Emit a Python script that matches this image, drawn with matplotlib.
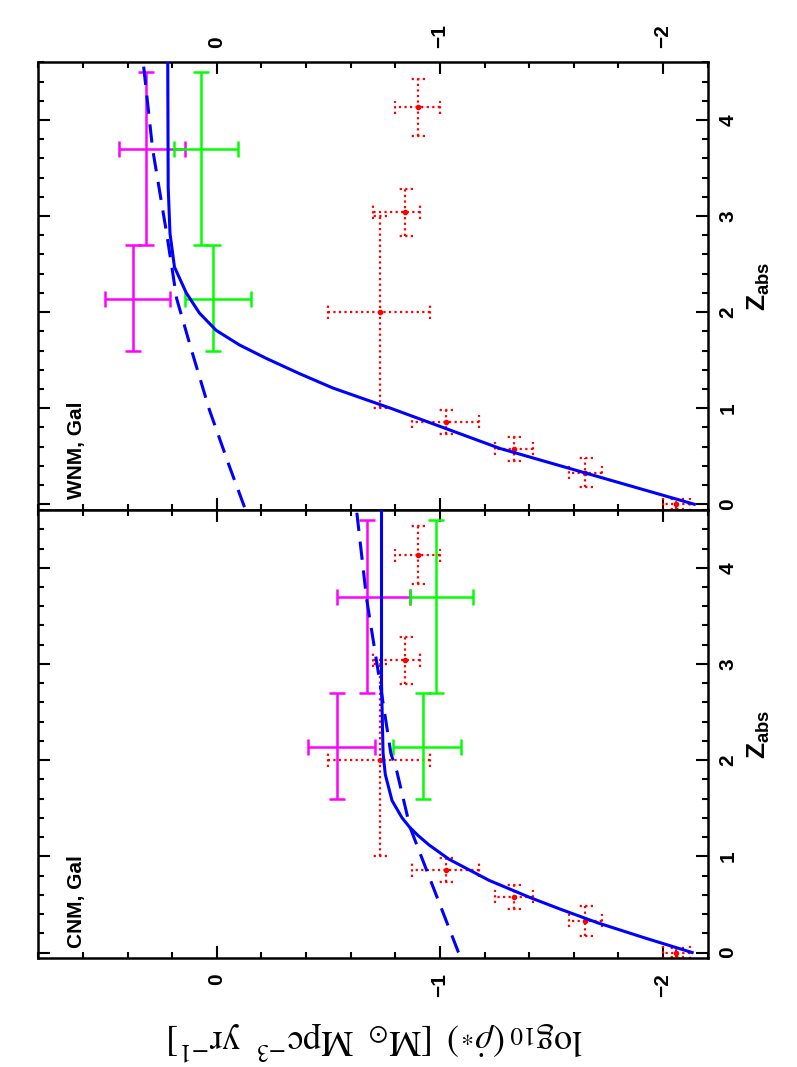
import numpy as np
import matplotlib.pyplot as plt
from matplotlib.ticker import FixedLocator, MultipleLocator


OUT_PATH = "out.png"

# galaxy SFR compilation, identical in both panels (z, log10 rho_dot)
GAL_Z = [0.0, 0.33, 0.58, 0.86, 2.0, 3.04, 4.13]
GAL_Z_ERR = [0.05, 0.155, 0.125, 0.125, 1.0, 0.245, 0.30]
GAL_SFR = [-2.06, -1.652, -1.33, -1.026, -0.73, -0.845, -0.90]
GAL_SFR_LO = [0.06, 0.075, 0.085, 0.15, 0.226, 0.065, 0.10]
GAL_SFR_HI = [0.06, 0.075, 0.085, 0.15, 0.232, 0.145, 0.10]

# DLA redshift bins
BIN_Z = [2.14, 3.70]
BIN_Z_LO = [0.54, 1.0]
BIN_Z_HI = [0.56, 0.8]

# CNM panel
CNM_MAG = [-0.539, -0.671]
CNM_MAG_LO = [0.169, 0.193]
CNM_MAG_HI = [0.129, 0.132]
CNM_GRN = [-0.923, -0.982]
CNM_GRN_LO = [0.172, 0.166]
CNM_GRN_HI = [0.133, 0.118]
CNM_SOLID_Z = [0.0, 0.15, 0.31, 0.45, 0.57, 0.75, 0.97, 1.12, 1.22, 1.30, 1.40, 1.58, 1.85,
               2.07, 2.8, 4.6]
CNM_SOLID = [-2.13, -1.92, -1.705, -1.54, -1.405, -1.22, -1.04, -0.95, -0.90, -0.865, -0.83,
             -0.785, -0.755, -0.745, -0.738, -0.738]
CNM_DASH_Z = [0.0, 0.76, 1.30, 1.88, 2.07, 2.82, 3.68, 4.6]
CNM_DASH = [-1.083, -0.956, -0.866, -0.807, -0.78, -0.73, -0.671, -0.626]

# WNM panel
WNM_MAG = [0.377, 0.317]
WNM_MAG_LO = [0.167, 0.175]
WNM_MAG_HI = [0.123, 0.123]
WNM_GRN = [0.015, 0.073]
WNM_GRN_LO = [0.169, 0.167]
WNM_GRN_HI = [0.127, 0.12]
WNM_SOLID_Z = [0.0, 0.29, 0.58, 0.99, 1.21, 1.36, 1.52, 1.66, 1.81, 1.99, 2.20, 2.47, 2.82,
               3.3, 4.6]
WNM_SOLID = [-2.14, -1.705, -1.27, -0.79, -0.52, -0.37, -0.22, -0.10, 0.003, 0.078,
             0.137, 0.19, 0.21, 0.218, 0.22]
WNM_DASH_Z = [-0.03, 0.39, 0.98, 1.6, 2.14, 2.82, 3.7, 4.6]
WNM_DASH = [-0.124, -0.057, 0.033, 0.113, 0.18, 0.225, 0.288, 0.33]

RED = "#ff0000"
MAGENTA = "#ff00ff"
GREEN = "#00ff00"
BLUE = "#0000ff"
DOTS = (0, (1, 1.5))


def draw_panel(ax, mag, mag_lo, mag_hi, grn, grn_lo, grn_hi, sz, sv, dz, dv, name):
    # galaxy points: dotted bars and dotted caps
    eb = ax.errorbar(GAL_SFR, GAL_Z, xerr=[GAL_SFR_LO, GAL_SFR_HI], yerr=GAL_Z_ERR,
                     fmt="o", ms=3, color=RED, ecolor=RED, elinewidth=1.6, capsize=0, zorder=2)
    for lc in eb[2]:
        lc.set_linestyle(DOTS)
    v = np.array(GAL_SFR)
    z = np.array(GAL_Z)
    ze = np.array(GAL_Z_ERR)
    cap_z, cap_v = 0.07, 0.032
    ends = np.concatenate([v - np.array(GAL_SFR_LO), v + np.array(GAL_SFR_HI)])
    zz = np.concatenate([z, z])
    ax.vlines(ends, zz - cap_z, zz + cap_z, colors=RED, linestyles=DOTS, lw=1.6, zorder=2)
    zends = np.concatenate([z - ze, z + ze])
    vv = np.concatenate([v, v])
    ax.hlines(zends, vv - cap_v, vv + cap_v, colors=RED, linestyles=DOTS, lw=1.6, zorder=2)

    ax.errorbar(mag, BIN_Z, xerr=[mag_lo, mag_hi], yerr=[BIN_Z_LO, BIN_Z_HI], fmt="none",
                ecolor=MAGENTA, elinewidth=1.8, capsize=6, capthick=1.8, zorder=3)
    ax.errorbar(grn, BIN_Z, xerr=[grn_lo, grn_hi], yerr=[BIN_Z_LO, BIN_Z_HI], fmt="none",
                ecolor=GREEN, elinewidth=1.8, capsize=6, capthick=1.8, zorder=3)

    ax.plot(sv, sz, color=BLUE, lw=2.2, zorder=4)
    ax.plot(dv, dz, color=BLUE, lw=2.2, dashes=(6, 3.5), zorder=4)

    ax.set_xlim(0.8, -2.2)
    ax.set_ylim(-0.06, 4.6)
    ax.xaxis.set_major_locator(FixedLocator([0, -1, -2]))
    ax.xaxis.set_minor_locator(MultipleLocator(0.2))
    ax.yaxis.set_major_locator(MultipleLocator(1))
    ax.yaxis.set_minor_locator(MultipleLocator(0.2))
    ax.tick_params(which="both", direction="in", top=True, bottom=True, left=True, right=True,
                   width=1.5, labelsize=15)
    ax.tick_params(which="major", length=8.6)
    ax.tick_params(which="minor", length=4.5)
    ax.tick_params(axis="x", labelrotation=90)
    ax.tick_params(axis="y", labelleft=False, labelright=True, labelrotation=90, pad=7.5)
    for sp in ax.spines.values():
        sp.set_linewidth(1.8)
    for t in ax.yaxis.get_major_ticks():
        t.label2.set_verticalalignment("center")
        t.label2.set_fontweight("bold")
    for t in ax.xaxis.get_major_ticks():
        t.label1.set_fontweight("bold")
        t.label2.set_fontweight("bold")

    ax.text(0.043, 0.024, name, transform=ax.transAxes, rotation=90, ha="left", va="bottom",
            fontsize=15, fontweight="bold")
    ax.text(1.056, 0.5, r"$\mathrm{Z}_{\mathrm{abs}}$", transform=ax.transAxes, rotation=90,
            ha="left", va="center", fontsize=19)


def main():
    plt.rcParams["font.family"] = ["Liberation Sans", "DejaVu Sans"]
    plt.rcParams["mathtext.fontset"] = "custom"
    plt.rcParams["mathtext.rm"] = "Liberation Sans:bold"
    plt.rcParams["mathtext.bf"] = "Liberation Sans:bold"

    fig = plt.figure(figsize=(7.97, 10.67), dpi=100)
    ax_w = fig.add_axes([0.0481, 0.5220, 0.8399, 0.4196])
    ax_c = fig.add_axes([0.0481, 0.1019, 0.8399, 0.4201])

    draw_panel(ax_c, CNM_MAG, CNM_MAG_LO, CNM_MAG_HI, CNM_GRN, CNM_GRN_LO, CNM_GRN_HI,
               CNM_SOLID_Z, CNM_SOLID, CNM_DASH_Z, CNM_DASH, "CNM, Gal")
    draw_panel(ax_w, WNM_MAG, WNM_MAG_LO, WNM_MAG_HI, WNM_GRN, WNM_GRN_LO, WNM_GRN_HI,
               WNM_SOLID_Z, WNM_SOLID, WNM_DASH_Z, WNM_DASH, "WNM, Gal")

    ax_c.tick_params(axis="x", labelbottom=True, labeltop=False, pad=10.8)
    ax_w.tick_params(axis="x", labelbottom=False, labeltop=True, pad=10)

    fig.text(375 / 797, 1 - 1042 / 1067,
             r"$\log_{10}(\dot{\rho}_{*})\;\;[\mathrm{M}_{\odot}\;\;\mathrm{Mpc}^{-3}\;\;\mathrm{yr}^{-1}]$",
             rotation=180, ha="center", va="center", fontsize=26, math_fontfamily="stix")

    fig.savefig(OUT_PATH, dpi=100)
    plt.close(fig)


if __name__ == "__main__":
    main()
